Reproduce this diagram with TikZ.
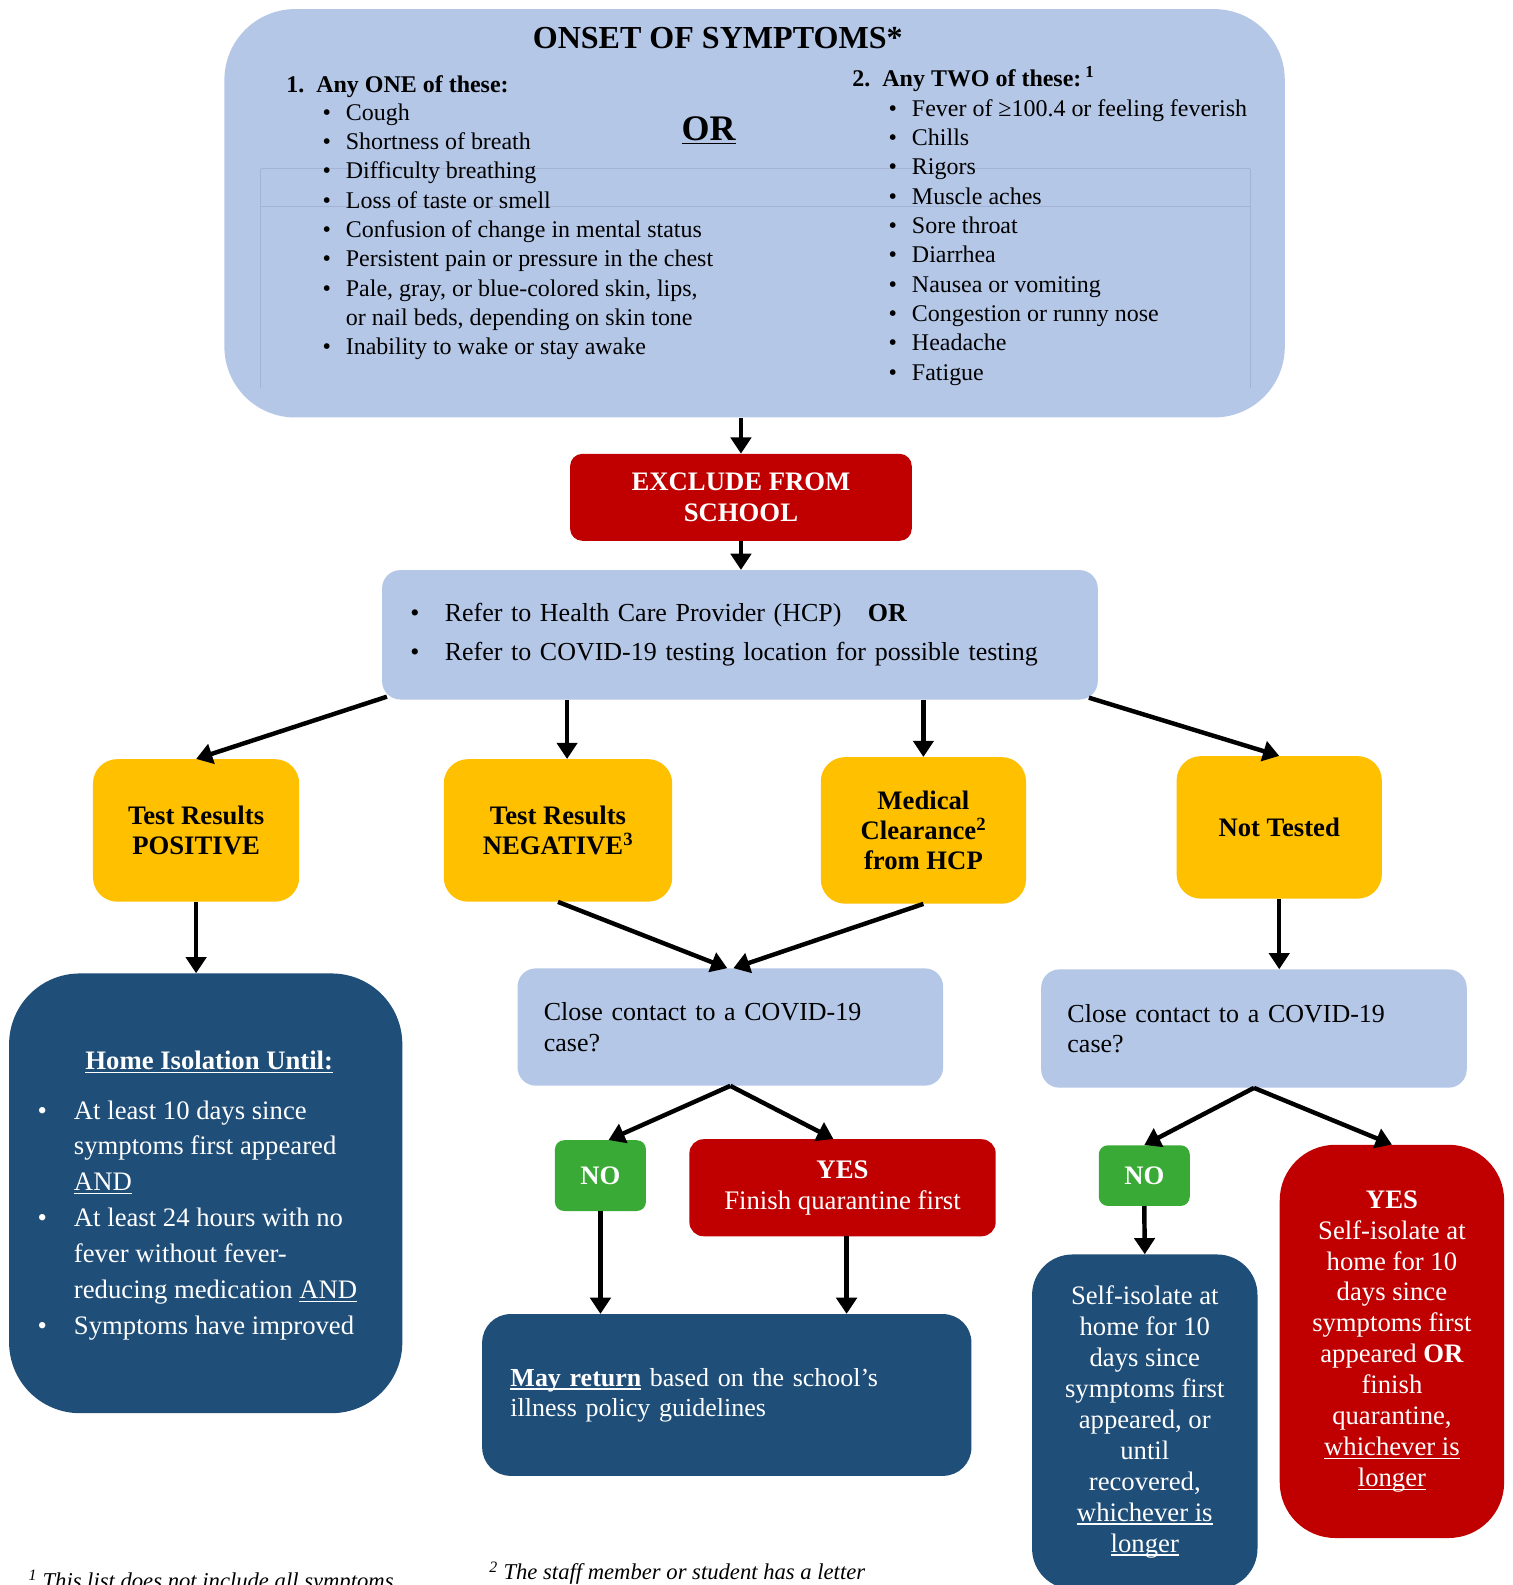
\documentclass[tikz,border=0pt]{standalone}
\usepackage{fontspec}
\setmainfont{Liberation Serif}
\usetikzlibrary{arrows.meta}

\definecolor{cvlblue}{HTML}{B4C7E7}
\definecolor{cvred}{HTML}{C00000}
\definecolor{cvyellow}{HTML}{FFC000}
\definecolor{cvnavy}{HTML}{1F4E79}
\definecolor{cvgreen}{HTML}{39AA35}
\definecolor{cvrule}{HTML}{A2B3D3}

\newcommand\fsmain{\fontsize{26.4}{30}\selectfont}
\newcommand\fsbox{\fontsize{25.7}{30}\selectfont}
\newcommand\fsself{\fontsize{26.4}{30.6}\selectfont}
\newcommand\fshome{\fontsize{26.4}{35.5}\selectfont}
\newcommand\fsrefer{\fontsize{25.7}{38}\selectfont}
\newcommand\fslist{\fontsize{23.7}{29}\selectfont}
\newcommand\fstitle{\fontsize{31.7}{36}\selectfont}
\newcommand\fsor{\fontsize{35.6}{40}\selectfont}
\newcommand\fsnote{\fontsize{22.4}{26}\selectfont}

% underline drawn as a rule under the text
\newsavebox\ulbox
\newcommand\uln[1]{\sbox\ulbox{#1}\rlap{\rule[-3.6pt]{\wd\ulbox}{1.4pt}}\usebox\ulbox}

\begin{document}
\begin{tikzpicture}[x=1pt, y=-1pt,
  lbox/.style={fill=cvlblue, rounded corners=18pt, inner sep=0pt, text=black},
  rbox/.style={fill=cvred, rounded corners=12pt, inner sep=0pt, text=white, align=center},
  ybox/.style={fill=cvyellow, rounded corners=24pt, inner sep=0pt, text=black,
               align=center, font=\fsmain\bfseries},
  nbox/.style={fill=cvnavy, rounded corners=28pt, inner sep=0pt, text=white},
  gbox/.style={fill=cvgreen, rounded corners=9pt, inner sep=0pt, text=white,
               font=\fsmain\bfseries},
  txt/.style={inner sep=0pt, text=black, align=left},
  arr/.style={-{Triangle[length=16pt,width=20pt]}, line width=4.4pt},
  rule/.style={draw=cvrule, line width=0.8pt},
]

  \def\lb{\makebox[23pt][l]{\textbullet}}
  \def\rb{\makebox[34pt][l]{\textbullet}}
  \def\hb{\makebox[36pt][l]{\textbullet}}

  \useasboundingbox (0,0) rectangle (1496,1568);
  \fill[white] (0,0) rectangle (1496,1568);

  % Onset of symptoms

  \node[lbox, rounded corners=70pt, minimum width=1049pt, minimum height=404pt]
    (onset) at (746.5,211) {};

  \draw[rule] (258,167) -- (1237,167);
  \draw[rule] (258,204) -- (1237,204);
  \draw[rule] (258,167) -- (258,384);
  \draw[rule] (1237,167) -- (1237,384);

  \node[txt, font=\fstitle\bfseries, anchor=base] (onsettitle) at (710,48)
    {ONSET OF SYMPTOMS*};

  % lists: base anchor sits on the last line
  \node[txt, font=\fslist\bfseries, anchor=base west] (onehead) at (283,92)
    {1.\hspace{12pt}Any ONE of these:};
  \node[txt, font=\fslist, anchor=base west] (onelist) at (319,351)
    {\lb Cough\\ \lb Shortness of breath\\ \lb Difficulty breathing\\
     \lb Loss of taste or smell\\ \lb Confusion of change in mental status\\
     \lb Persistent pain or pressure in the chest\\
     \lb Pale, gray, or blue-colored skin, lips,\\
     \hspace*{23pt}or nail beds, depending on skin tone\\
     \lb Inability to wake or stay awake};

  \node[txt, font=\fsor\bfseries, anchor=base] (ortop) at (701,139) {\uln{OR}};

  \node[txt, font=\fslist\bfseries, anchor=base west] (twohead) at (843,86)
    {2.\hspace{12pt}Any TWO of these:\,\textsuperscript{1}};
  \node[txt, font=\fslist, anchor=base west] (twolist) at (879,376)
    {\lb Fever of ≥100.4 or feeling feverish\\ \lb Chills\\ \lb Rigors\\
     \lb Muscle aches\\ \lb Sore throat\\ \lb Diarrhea\\ \lb Nausea or vomiting\\
     \lb Congestion or runny nose\\ \lb Headache\\ \lb Fatigue};

  % Exclude and refer

  \node[rbox, font=\fsmain\bfseries, minimum width=338pt, minimum height=86pt]
    (excl) at (733,492) {EXCLUDE FROM\\SCHOOL};

  \node[lbox, font=\fsrefer, minimum width=708pt, minimum height=128pt,
        text width=652pt, inner xsep=28pt, align=left] (refer) at (732,628)
    {\rb Refer to Health Care Provider (HCP)\hspace{26pt}\textbf{OR}\\
     \rb Refer to COVID-19 testing location for possible testing};

  % Outcomes

  \node[ybox, minimum width=204pt, minimum height=141pt] (pos) at (194,821.5)
    {Test Results\\POSITIVE};
  \node[ybox, minimum width=226pt, minimum height=141pt] (neg) at (552,821.5)
    {Test Results\\NEGATIVE\textsuperscript{3}};
  \node[ybox, minimum width=203pt, minimum height=145pt] (med) at (913.5,821.5)
    {Medical\\Clearance\textsuperscript{2}\\from HCP};
  \node[ybox, minimum width=203pt, minimum height=141pt] (nott) at (1265.5,818.5)
    {Not Tested};

  % Home isolation

  \node[nbox, rounded corners=70pt, minimum width=389pt, minimum height=435pt]
    (home) at (203.5,1180.5) {};
  \node[txt, text=white, font=\fsmain\bfseries, anchor=base] (hometitle) at (207,1058)
    {\uln{Home Isolation Until:}};
  \node[txt, text=white, font=\fshome, anchor=base west] (homelist) at (37,1320)
    {\hb At least 10 days since\\ \hspace*{36pt}symptoms first appeared\\
     \hspace*{36pt}\uln{AND}\\ \hb At least 24 hours with no\\
     \hspace*{36pt}fever without fever-\\
     \hspace*{36pt}reducing medication \uln{AND}\\ \hb Symptoms have improved};

  % Close contact, negative / clearance branch

  \node[lbox, font=\fsbox, minimum width=421pt, minimum height=116pt,
        text width=369pt, inner xsep=26pt, align=left] (close1) at (722.5,1016)
    {Close contact to a COVID-19\\case?};
  \node[gbox, minimum width=90pt, minimum height=70pt] (no1) at (594,1163) {NO};
  \node[rbox, font=\fontsize{26.5}{31}\selectfont, rounded corners=14pt,
        minimum width=303pt, minimum height=96pt] (yes1) at (833.5,1175)
    {\textbf{YES}\\Finish quarantine first};
  \node[nbox, font=\fsbox, minimum width=484pt, minimum height=160pt,
        text width=428pt, inner xsep=28pt, align=left] (mayret) at (719,1380)
    {\uln{\textbf{May return}} based on the school's\\illness policy guidelines};

  % Close contact, not tested branch

  \node[lbox, font=\fsbox, minimum width=421pt, minimum height=117pt,
        text width=369pt, inner xsep=26pt, align=left] (close2) at (1240.5,1017.5)
    {Close contact to a COVID-19\\case?};
  \node[gbox, minimum width=90pt, minimum height=60pt] (no2) at (1132,1163) {NO};
  \node[rbox, font=\fsself, rounded corners=55pt, minimum width=222pt,
        minimum height=389pt] (yes2) at (1377,1327)
    {\textbf{YES}\\Self-isolate at\\home for 10\\days since\\symptoms first\\
     appeared \textbf{OR}\\finish\\quarantine,\\\uln{whichever is}\\\uln{longer}};
  \node[nbox, font=\fsself, align=center, rounded corners=40pt, minimum width=223pt,
        minimum height=331pt] (selfiso) at (1132.5,1406.5)
    {Self-isolate at\\home for 10\\days since\\symptoms first\\appeared, or\\until\\
     recovered,\\\uln{whichever is}\\\uln{longer}};

  % Footnotes

  \node[txt, font=\fsnote\itshape, anchor=base west] (note1) at (28,1571)
    {\textsuperscript{1} This list does not include all symptoms};
  \node[txt, font=\fsnote\itshape, anchor=base west] (note2) at (484,1563)
    {\textsuperscript{2} The staff member or student has a letter};

  % Arrows

  \draw[arr] (excl.north |- onset.south) -- (excl.north);
  \draw[arr] (excl.south) -- (excl.south |- refer.north);

  \draw[arr] ([xshift=5pt,yshift=3pt]refer.south west) -- (pos.north);
  \draw[arr] ([xshift=9pt]neg.north |- refer.south) -- ([xshift=9pt]neg.north);
  \draw[arr] (med.north |- refer.south) -- (med.north);
  \draw[arr] ([xshift=-9pt,yshift=2pt]refer.south east) -- (nott.north);

  \draw[arr] (pos.south) -- (pos.south |- home.north);
  \draw[arr] (neg.south) -- ([xshift=-3pt]close1.north);
  \draw[arr] (med.south) -- ([xshift=3pt]close1.north);
  \draw[arr] (nott.south) -- (nott.south |- close2.north);

  \draw[arr] (close1.south) -- ([xshift=8pt]no1.north);
  \draw[arr] (close1.south) -- ([xshift=-9pt]yes1.north);
  \draw[arr] (no1.south) -- (no1.south |- mayret.north);
  \draw[arr] ([xshift=4pt]yes1.south) -- ([xshift=4pt]yes1.south |- mayret.north);

  \draw[arr] (close2.south) -- (no2.north);
  \draw[arr] (close2.south) -- (yes2.north);
  \draw[arr] (no2.south) -- (selfiso.north);

\end{tikzpicture}
\end{document}
